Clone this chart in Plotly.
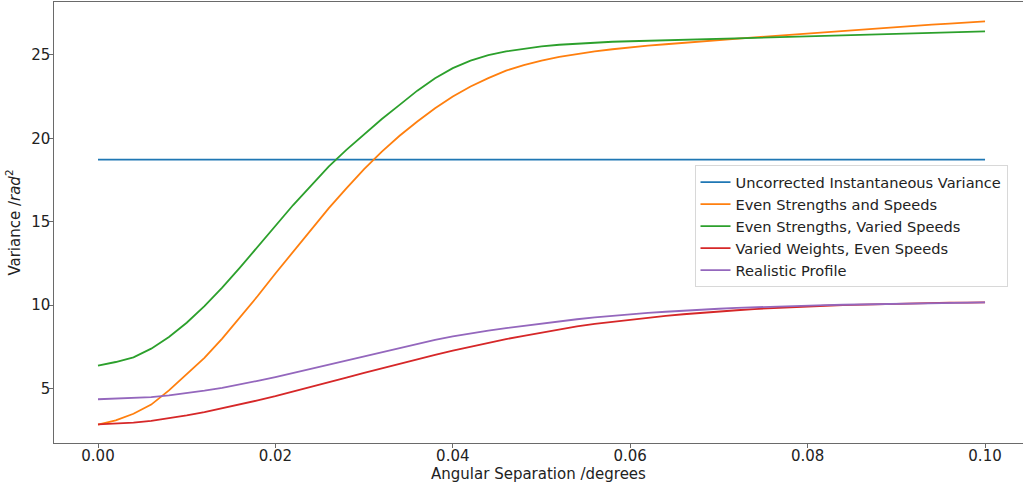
import plotly.graph_objects as go

x_deg = [round(i * 0.002, 3) for i in range(51)]

uncorrected = [18.72] * 51

even_strengths_speeds = [
    2.85, 3.1, 3.5, 4.05, 4.9, 5.85, 6.85, 8.0, 9.25, 10.55,
    11.9, 13.2, 14.5, 15.8, 17.0, 18.15, 19.2, 20.15, 21.0, 21.8,
    22.5, 23.1, 23.6, 24.05, 24.38, 24.65, 24.87, 25.05, 25.2, 25.33,
    25.45, 25.55, 25.63, 25.72, 25.8, 25.88, 25.96, 26.04, 26.12, 26.2,
    26.28, 26.36, 26.43, 26.5, 26.58, 26.65, 26.72, 26.8, 26.87, 26.94,
    27.0,
]

even_strengths_varied_speeds = [
    6.38, 6.6, 6.88, 7.4, 8.1, 8.95, 9.95, 11.05, 12.25, 13.5,
    14.75, 16.0, 17.15, 18.3, 19.3, 20.25, 21.15, 22.0, 22.85, 23.6,
    24.2, 24.65, 24.98, 25.2, 25.37, 25.5, 25.6, 25.67, 25.73, 25.78,
    25.81, 25.84, 25.87, 25.89, 25.92, 25.94, 25.97, 25.99, 26.02, 26.05,
    26.08, 26.11, 26.14, 26.17, 26.2, 26.23, 26.26, 26.29, 26.32, 26.36,
    26.4,
]

varied_weights_even_speeds = [
    2.87, 2.9, 2.97, 3.08, 3.23, 3.4, 3.6, 3.82, 4.06, 4.3,
    4.55, 4.82, 5.1, 5.39, 5.67, 5.95, 6.23, 6.5, 6.77, 7.03,
    7.28, 7.52, 7.75, 7.97, 8.17, 8.37, 8.56, 8.73, 8.88, 9.01,
    9.13, 9.25, 9.36, 9.46, 9.55, 9.63, 9.7, 9.77, 9.83, 9.88,
    9.93, 9.97, 10.01, 10.04, 10.07, 10.09, 10.11, 10.13, 10.15, 10.16,
    10.17,
]

realistic_profile = [
    4.37, 4.4, 4.44, 4.5, 4.6, 4.73, 4.88, 5.05, 5.25, 5.47,
    5.7, 5.95, 6.2, 6.45, 6.7, 6.95, 7.2, 7.45, 7.7, 7.93,
    8.13, 8.32, 8.48, 8.63, 8.77, 8.91, 9.04, 9.16, 9.27, 9.37,
    9.46, 9.54, 9.61, 9.68, 9.74, 9.79, 9.84, 9.88, 9.92, 9.95,
    9.98, 10.01, 10.03, 10.05, 10.07, 10.09, 10.11, 10.13, 10.14, 10.16,
    10.17,
]

series = [
    ("Uncorrected Instantaneous Variance", uncorrected, "#1f77b4"),
    ("Even Strengths and Speeds", even_strengths_speeds, "#ff7f0e"),
    ("Even Strengths, Varied Speeds", even_strengths_varied_speeds, "#2ca02c"),
    ("Varied Weights, Even Speeds", varied_weights_even_speeds, "#d62728"),
    ("Realistic Profile", realistic_profile, "#9467bd"),
]

x_ticks = [0.0, 0.02, 0.04, 0.06, 0.08, 0.10]
x_tick_labels = ["0.00", "0.02", "0.04", "0.06", "0.08", "0.10"]
y_ticks = [5, 10, 15, 20, 25]

fig = go.Figure()
for name, vals, color in series:
    fig.add_trace(go.Scatter(x=x_deg, y=vals, mode="lines", name=name,
                             line=dict(color=color, width=1.8)))

font_family = "DejaVu Sans"
axis_line = "#6a6a6a"

fig.update_layout(
    width=1023, height=489,
    margin=dict(l=54, r=0, t=2, b=46, autoexpand=False),
    paper_bgcolor="white", plot_bgcolor="white",
    font=dict(family=font_family, size=15, color="#222"),
    showlegend=True,
    legend=dict(
        x=0.661, y=0.630, xanchor="left", yanchor="top",
        bgcolor="rgba(255,255,255,0.8)", bordercolor="#d8d8d8", borderwidth=1,
        font=dict(family=font_family, size=14.6, color="#222"),
        tracegroupgap=0, itemwidth=30,
    ),
    xaxis=dict(
        range=[-0.00496, 0.10428], tickvals=x_ticks, ticktext=x_tick_labels,
        automargin=False,
        showgrid=False, zeroline=False, showline=True, linecolor=axis_line,
        linewidth=1.3, mirror=True, ticks="outside", ticklen=3.5, tickcolor=axis_line,
        ticklabelstandoff=-5,
        title=dict(text="Angular Separation /degrees", standoff=2,
                   font=dict(family=font_family, size=15)),
        tickfont=dict(family=font_family, size=15),
    ),
    yaxis=dict(
        range=[1.749, 28.16], tickvals=y_ticks, automargin=True,
        showgrid=False, zeroline=False, showline=True, linecolor=axis_line,
        linewidth=1.3, mirror=False, ticks="outside", ticklen=3.5, tickcolor=axis_line,
        ticklabelstandoff=-4,
        title=dict(text="Variance /<i>rad</i><sup>2</sup>", standoff=7,
                   font=dict(family=font_family, size=15)),
        tickfont=dict(family=font_family, size=15),
    ),
)

fig.write_html(
    "out.html",
    config={"displayModeBar": False},
    post_script="document.body.style.margin='0';document.body.style.overflow='hidden';",
)
